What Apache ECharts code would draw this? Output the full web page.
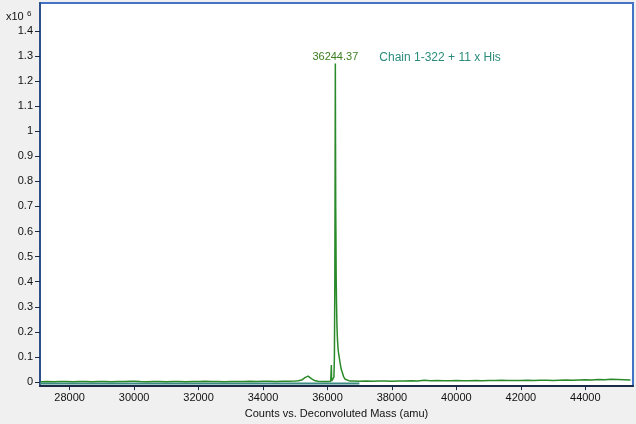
<!DOCTYPE html>
<html>
<head>
<meta charset="utf-8">
<script src="https://cdn.jsdelivr.net/npm/echarts@6/dist/echarts.min.js"></script>
<style>html,body{margin:0;padding:0;background:#f0f0f0;}#c{width:636px;height:424px;}</style>
</head>
<body>
<div id="c"></div>
<script>
// Deconvoluted mass (amu) and counts (x10^6)
const masses = [27100,27300,27500,27700,27900,28100,28300,28500,28700,28900,29100,29300,29500,29700,29900,29960,30020,30200,30400,30600,30800,31000,31200,31400,31600,31800,32000,32200,32400,32600,32800,33000,33200,33400,33600,33800,34000,34200,34400,34600,34800,35000,35100,35200,35300,35350,35400,35450,35500,35600,35700,35850,36000,36100,36115,36121,36127,36150,36180,36200,36215,36228,36238,36244,36250,36256,36262,36270,36280,36295,36310,36330,36350,36370,36400,36430,36460,36500,36550,36600,36700,36800,37000,37200,37400,37600,37800,38000,38200,38400,38600,38800,39000,39200,39400,39600,39800,40000,40200,40400,40600,40800,41000,41200,41400,41600,41800,42000,42200,42400,42600,42800,43000,43200,43400,43600,43800,44000,44200,44400,44600,44800,45000,45200,45400];
const counts = [0.001,0.002,0.001,0.002,0.002,0.001,0.002,0.002,0.001,0.002,0.002,0.001,0.002,0.002,0.003,0.007,0.003,0.002,0.001,0.002,0.002,0.001,0.002,0.002,0.001,0.002,0.002,0.003,0.002,0.002,0.001,0.002,0.002,0.002,0.003,0.002,0.003,0.003,0.002,0.003,0.003,0.004,0.005,0.008,0.018,0.022,0.024,0.021,0.014,0.006,0.003,0.002,0.002,0.003,0.004,0.068,0.004,0.003,0.006,0.02,0.1,0.4,0.9,1.27,0.95,0.7,0.6,0.42,0.32,0.22,0.17,0.13,0.11,0.095,0.07,0.05,0.038,0.022,0.011,0.007,0.004,0.004,0.003,0.004,0.003,0.004,0.004,0.003,0.004,0.004,0.005,0.004,0.007,0.005,0.006,0.005,0.005,0.006,0.005,0.005,0.006,0.005,0.006,0.006,0.007,0.006,0.006,0.006,0.007,0.006,0.007,0.007,0.006,0.007,0.008,0.007,0.008,0.009,0.008,0.01,0.009,0.011,0.01,0.009,0.008];
// Flat baseline trace
const baseMasses = [27080, 36990];
const baseCounts = [-0.006, -0.006];
const xTicks = [28000,30000,32000,34000,36000,38000,40000,42000,44000];
const yTicks = [0,0.1,0.2,0.3,0.4,0.5,0.6,0.7,0.8,0.9,1,1.1,1.2,1.3,1.4];
const peakMass = 36244;
const peakCount = 1.27;
const peakLabel = '36244.37';
const peakName = 'Chain 1-322 + 11 x His';
const xName = 'Counts vs. Deconvoluted Mass (amu)';

const FONT = '"Liberation Sans", Arial, sans-serif';
const chart = echarts.init(document.getElementById('c'));
chart.setOption({
  backgroundColor: '#f0f0f0',
  animation: false,
  grid: {left: 40, right: 3, top: 3, bottom: 35, show: true, backgroundColor: '#ffffff', borderColor: '#4472c4', borderWidth: 2},
  xAxis: {
    type: 'value', min: 27080, max: 45480,
    name: xName, nameLocation: 'middle', nameGap: 21,
    nameTextStyle: {fontFamily: FONT, fontSize: 11, color: '#111'},
    axisLine: {show: true, onZero: false, lineStyle: {color: '#1c2a45', width: 2}},
    axisTick: {show: true, length: 4, customValues: xTicks, lineStyle: {color: '#1c2a45'}},
    axisLabel: {customValues: xTicks, fontFamily: FONT, fontSize: 11, color: '#111', margin: 6, formatter: v => String(v)},
    splitLine: {show: false}
  },
  yAxis: {
    type: 'value', min: -0.016, max: 1.511,
    axisLine: {show: true, onZero: false, lineStyle: {color: '#2d4f8a', width: 2}},
    axisTick: {show: true, length: 5, customValues: yTicks, lineStyle: {color: '#1c2a45'}},
    axisLabel: {customValues: yTicks, fontFamily: FONT, fontSize: 11, color: '#111', margin: 7, formatter: v => String(v)},
    splitLine: {show: false}
  },
  graphic: [
    {type: 'text', left: 6, top: 11, style: {text: 'x10', font: '11px ' + FONT, fill: '#111'}},
    {type: 'text', left: 27, top: 10, style: {text: '6', font: '8px ' + FONT, fill: '#111'}}
  ],
  series: [
    {
      type: 'line', data: baseMasses.map((m, i) => [m, baseCounts[i]]),
      symbol: 'none', silent: true, lineStyle: {color: '#3a8a86', width: 2}
    },
    {
      type: 'line', data: masses.map((m, i) => [m, counts[i]]),
      symbol: 'none', lineStyle: {color: '#2a8a2a', width: 1.5},
      markPoint: {
        symbol: 'circle', symbolSize: 0,
        data: [
          {coord: [peakMass, peakCount], label: {show: true, formatter: peakLabel, position: 'inside', align: 'center', verticalAlign: 'bottom', offset: [0, -1], fontFamily: FONT, fontSize: 11, color: '#3a7d1e'}},
          {coord: [peakMass, peakCount], label: {show: true, formatter: peakName, position: 'inside', align: 'left', verticalAlign: 'middle', offset: [44, -6], fontFamily: FONT, fontSize: 12, color: '#2a8c7c'}}
        ]
      }
    }
  ]
});
</script>
</body>
</html>
